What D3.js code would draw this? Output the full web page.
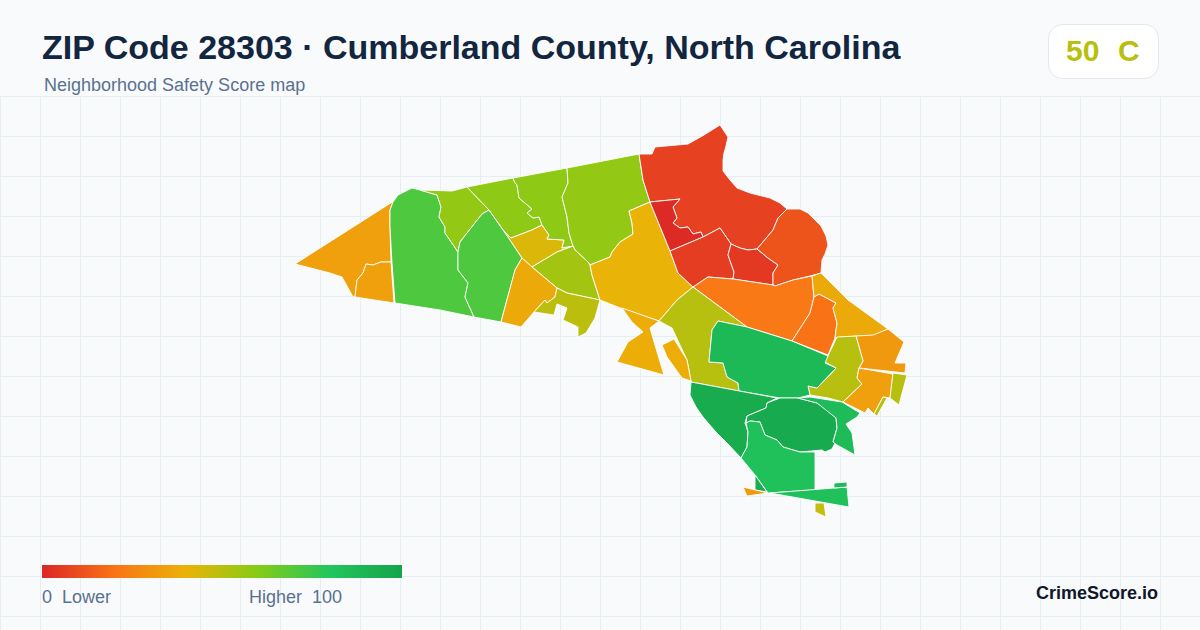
<!DOCTYPE html>
<html>
<head>
<meta charset="utf-8">
<script src="https://cdn.jsdelivr.net/npm/d3@7"></script>
<style>
  html, body { margin: 0; padding: 0; background: #f8fafc; }
  svg { display: block; font-family: "Liberation Sans", Arial, sans-serif; }
</style>
</head>
<body>
<svg id="map" width="1200" height="630"></svg>
<script>
// Score for each neighbourhood
const scores = [34, 34, 71, 57, 71, 58, 43, 58, 57, 54, 37, 49, 40, 7, 1, 6, 5, 12, 22, 20, 37, 32, 50, 34, 50, 50, 50, 87, 38, 38, 95, 96, 86, 83, 94, 32, 83, 86, 47];

// Neighbourhood outlines in map units, same order as scores
const rings = [
  [[295,264],[397,199],[393,202],[390,210],[390,227],[391,262],[381,262],[373,265],[366,264],[363,273],[357,280],[355,297],[353,297],[342,277],[330,273]],
  [[391,262],[381,262],[373,265],[366,264],[363,273],[357,280],[355,297],[394,303]],
  [[412,188],[420,190],[437,195],[441,207],[439,217],[445,227],[445,233],[458,252],[458,270],[468,283],[465,297],[474,317],[440,310],[395,303],[392,263],[390,227],[390,210],[393,202],[398,195]],
  [[420,190],[452,191],[467,187],[489,210],[482,214],[460,242],[458,252],[445,233],[445,227],[439,217],[441,207],[437,195]],
  [[489,210],[510,240],[522,258],[515,270],[501,322],[474,317],[465,297],[468,283],[458,270],[458,252],[460,242],[482,214]],
  [[467,187],[513,178],[515,183],[517,185],[519,198],[532,209],[527,213],[533,218],[539,217],[542,225],[532,230],[511,238],[504,231],[489,210]],
  [[504,231],[511,238],[532,230],[542,225],[549,235],[547,239],[564,240],[562,248],[573,246],[557,252],[532,267],[522,258],[510,240]],
  [[513,178],[567,168],[568,183],[562,197],[567,217],[569,233],[573,246],[562,248],[564,240],[547,239],[549,235],[542,225],[539,217],[533,218],[527,213],[532,209],[519,198],[517,185],[515,183]],
  [[567,168],[639,154],[643,180],[650,202],[629,211],[632,223],[633,234],[620,242],[612,252],[610,257],[590,265],[588,262],[575,250],[573,246],[569,233],[567,217],[562,197],[568,183]],
  [[573,246],[575,250],[588,262],[590,265],[592,275],[600,300],[567,293],[557,288],[532,267],[557,252]],
  [[522,258],[532,267],[557,288],[555,297],[547,303],[545,300],[534,312],[521,327],[501,322],[515,270]],
  [[557,288],[567,293],[600,300],[595,318],[586,333],[578,337],[578,327],[563,320],[567,308],[557,304],[554,315],[534,312],[545,300],[547,303],[555,297]],
  [[650,202],[670,251],[678,273],[693,287],[677,300],[659,321],[623,309],[600,300],[592,275],[590,265],[610,257],[612,252],[620,242],[633,234],[632,223],[629,211]],
  [[639,154],[652,154],[655,147],[688,144],[704,135],[720,125],[728,137],[726,146],[724,153],[723,160],[723,171],[730,180],[737,188],[750,193],[770,198],[780,203],[787,209],[778,218],[773,230],[757,249],[748,250],[740,248],[731,244],[720,228],[703,237],[701,232],[693,234],[688,227],[680,228],[673,223],[677,218],[673,207],[680,199],[650,202],[643,180]],
  [[650,202],[680,199],[673,207],[677,218],[673,223],[680,228],[688,227],[693,234],[701,232],[703,237],[670,251]],
  [[670,251],[703,237],[720,228],[731,244],[728,255],[734,272],[733,279],[708,277],[693,287],[678,273]],
  [[731,244],[740,248],[748,250],[757,249],[768,258],[778,265],[773,273],[773,285],[733,279],[734,272],[728,255]],
  [[787,209],[800,209],[808,213],[815,220],[821,226],[826,236],[828,245],[825,254],[822,260],[821,273],[810,276],[793,280],[775,286],[773,285],[773,273],[778,265],[768,258],[757,249],[773,230],[778,218]],
  [[693,287],[708,277],[733,279],[773,285],[775,286],[793,280],[812,276],[814,297],[810,313],[792,341],[747,327]],
  [[814,297],[819,294],[836,303],[833,308],[837,323],[835,338],[828,355],[792,341],[810,313]],
  [[812,276],[821,273],[848,300],[888,329],[873,336],[857,336],[835,338],[837,323],[833,308],[836,303],[819,294],[814,297]],
  [[888,329],[904,342],[895,363],[906,363],[905,373],[859,368],[863,361],[856,336],[873,335]],
  [[856,336],[863,361],[859,368],[857,378],[862,384],[843,402],[828,398],[810,395],[808,386],[817,388],[830,375],[836,368],[825,362],[837,337]],
  [[859,368],[893,374],[890,398],[883,397],[874,414],[868,408],[865,413],[843,402],[862,384],[857,378]],
  [[893,373],[907,375],[899,405],[890,398]],
  [[883,397],[887,398],[877,416],[874,414]],
  [[693,287],[747,327],[718,321],[712,330],[709,362],[723,363],[727,377],[738,383],[739,391],[691,382],[687,360],[672,328],[659,321],[677,300]],
  [[718,321],[747,327],[792,341],[828,356],[825,363],[836,368],[817,388],[808,386],[810,395],[798,398],[780,398],[739,391],[738,383],[727,377],[723,363],[709,362],[712,330]],
  [[622,308],[659,321],[650,328],[655,345],[664,375],[617,362],[628,342],[643,332],[632,322]],
  [[674,339],[662,345],[667,357],[682,378],[691,381],[687,360]],
  [[691,382],[777,398],[767,403],[766,408],[747,416],[745,423],[748,432],[747,447],[741,458],[727,443],[715,431],[703,417],[696,407],[690,395]],
  [[780,398],[798,398],[817,403],[828,410],[836,418],[837,428],[833,442],[835,443],[832,449],[825,452],[822,450],[800,452],[783,447],[777,440],[765,435],[760,422],[750,421],[746,423],[747,416],[766,408],[767,403]],
  [[798,398],[810,397],[842,402],[860,413],[857,417],[846,424],[852,433],[855,455],[837,445],[833,442],[837,428],[836,418],[817,403]],
  [[750,421],[760,422],[765,435],[777,440],[783,447],[800,452],[815,452],[815,490],[768,493],[755,475],[741,458],[747,447],[748,432],[746,423]],
  [[755,475],[767,492],[755,490]],
  [[743,487],[768,493],[747,496]],
  [[770,493],[847,487],[849,507]],
  [[834,483],[847,482],[847,487],[834,488]],
  [[815,503],[824,503],[826,517],[815,512]]
];

// Legend colour ramp
const rampStops = [0, 20, 40, 60, 80, 100];
const rampColors = ["#dc2626", "#f97316", "#eab308", "#84cc16", "#22c55e", "#16a34a"];

const zipScore = 50;
const zipGrade = "C";

const svg = d3.select("#map"),
    width = +svg.attr("width"),
    height = +svg.attr("height");

const color = d3.scaleLinear().domain(rampStops).range(rampColors);

// Background grid
const gridTop = 96, gridStep = 40;
const grid = svg.append("g").attr("stroke", "#e6eef2").attr("stroke-width", 1);
grid.selectAll(".v")
    .data(d3.range(0, width, gridStep))
    .join("line")
    .attr("x1", d => d + 0.5).attr("x2", d => d + 0.5)
    .attr("y1", gridTop).attr("y2", height);
grid.selectAll(".h")
    .data(d3.range(gridTop, height, gridStep))
    .join("line")
    .attr("x1", 0).attr("x2", width)
    .attr("y1", d => d + 0.5).attr("y2", d => d + 0.5);

// Map
const features = rings.map((ring, i) => ({
    type: "Feature",
    properties: { score: scores[i] },
    geometry: { type: "Polygon", coordinates: [[...ring, ring[0]]] }
}));
const projection = d3.geoIdentity()
    .fitExtent([[295, 125], [907, 517]], { type: "FeatureCollection", features });
const path = d3.geoPath(projection);

svg.append("g")
    .selectAll("path")
    .data(features)
    .join("path")
    .attr("d", path)
    .attr("fill", d => color(d.properties.score))
    .attr("stroke", "#fff")
    .attr("stroke-width", 0.9)
    .attr("stroke-linejoin", "round");

// Header
svg.append("text")
    .attr("x", 42).attr("y", 59)
    .attr("font-size", 34).attr("font-weight", 700)
    .attr("fill", "#12263f")
    .text("ZIP Code 28303 · Cumberland County, North Carolina");
svg.append("text")
    .attr("x", 44).attr("y", 91)
    .attr("font-size", 18)
    .attr("fill", "#5b7190")
    .text("Neighborhood Safety Score map");

// Score card
svg.append("rect")
    .attr("x", 1048.5).attr("y", 24.5)
    .attr("width", 110).attr("height", 54).attr("rx", 14)
    .attr("fill", "#fff").attr("stroke", "#e2e8f0");
svg.append("text")
    .attr("x", 1066).attr("y", 61)
    .attr("font-size", 30).attr("font-weight", 700)
    .attr("fill", color(zipScore))
    .text(zipScore);
svg.append("text")
    .attr("x", 1118).attr("y", 61)
    .attr("font-size", 30).attr("font-weight", 700)
    .attr("fill", color(zipScore))
    .text(zipGrade);

// Legend
const legendX = d3.scaleLinear().domain([0, 100]).range([42, 402]);
const gradient = svg.append("defs").append("linearGradient").attr("id", "ramp");
gradient.selectAll("stop")
    .data(rampStops)
    .join("stop")
    .attr("offset", d => `${d}%`)
    .attr("stop-color", d => color(d));
svg.append("rect")
    .attr("x", legendX(0)).attr("y", 565)
    .attr("width", legendX(100) - legendX(0)).attr("height", 13)
    .attr("fill", "url(#ramp)");
svg.append("text")
    .attr("x", 42).attr("y", 603)
    .attr("font-size", 18).attr("fill", "#5b7190")
    .style("white-space", "pre")
    .text("0  Lower");
svg.append("text")
    .attr("x", 249).attr("y", 603)
    .attr("font-size", 18).attr("fill", "#5b7190")
    .style("white-space", "pre")
    .text("Higher  100");

svg.append("text")
    .attr("x", 1158).attr("y", 599)
    .attr("text-anchor", "end")
    .attr("font-size", 18).attr("font-weight", 700)
    .attr("fill", "#0f172a")
    .text("CrimeScore.io");
</script>
</body>
</html>
